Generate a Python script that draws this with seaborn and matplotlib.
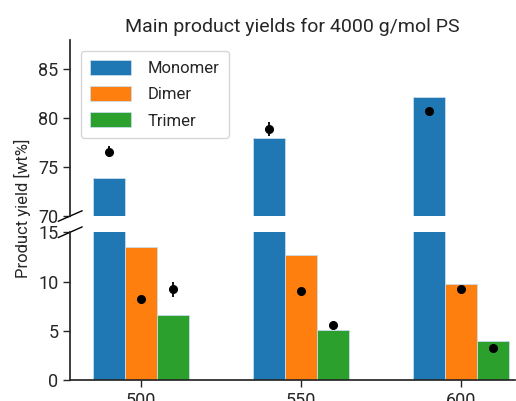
import pandas as pd
import matplotlib
matplotlib.use('Agg')
import matplotlib.pyplot as plt
import seaborn as sns

# --- Data ---
temperatures = [500, 550, 600]
products = ['Monomer', 'Dimer', 'Trimer']

# bars (model yields)
monomer_bar = [73.9, 78.0, 82.2]
dimer_bar = [13.5, 12.7, 9.7]
trimer_bar = [6.6, 5.1, 4.0]

# points (experimental yields) with error
monomer_exp = [76.6, 78.9, 80.7]
monomer_err = [0.6, 0.7, 0.3]
dimer_exp = [8.2, 9.0, 9.2]
dimer_err = [0.0, 0.0, 0.0]
trimer_exp = [9.2, 5.6, 3.3]
trimer_err = [0.8, 0.0, 0.0]

bar_values = {'Monomer': monomer_bar, 'Dimer': dimer_bar, 'Trimer': trimer_bar}
exp_values = {'Monomer': (monomer_exp, monomer_err),
              'Dimer': (dimer_exp, dimer_err),
              'Trimer': (trimer_exp, trimer_err)}

rows = []
for prod in products:
    for t, v in zip(temperatures, bar_values[prod]):
        rows.append({'temperature': t, 'product': prod, 'yield': v})
df = pd.DataFrame(rows)

sns.set_theme(style="ticks")
plt.rcParams['font.family'] = ['Roboto', 'DejaVu Sans']

fig, (ax_top, ax_bot) = plt.subplots(
    2, 1, figsize=(5.16, 4.01), dpi=100, sharex=True,
    gridspec_kw={'height_ratios': [176, 148]})
fig.subplots_adjust(left=0.136, right=0.998, top=0.900, bottom=0.052, hspace=0.1)

palette = sns.color_palette('tab10', 3)
for ax in (ax_top, ax_bot):
    sns.barplot(data=df, x='temperature', y='yield', hue='product',
                hue_order=products, palette=palette, native_scale=True,
                saturation=1, width=0.6, edgecolor='#c8dcec', linewidth=0.6,
                ax=ax, legend=(ax is ax_top))
    bar_w = 10
    for i, prod in enumerate(products):
        offset = (i - 1) * bar_w
        ys, errs = exp_values[prod]
        ax.errorbar([t + offset for t in temperatures], ys, yerr=errs,
                    fmt='o', color='black', markersize=5.5, elinewidth=1.3,
                    capsize=0, zorder=5)

ax_top.set_ylim(70, 88)
ax_bot.set_ylim(0, 15)
ax_bot.set_xlim(478, 617)
ax_top.set_yticks([70, 75, 80, 85])
ax_bot.set_yticks([0, 5, 10, 15])
ax_bot.set_xticks(temperatures)

ax_top.spines['bottom'].set_visible(False)
ax_top.spines['top'].set_visible(False)
ax_top.spines['right'].set_visible(False)
ax_bot.spines['top'].set_visible(False)
ax_bot.spines['right'].set_visible(False)
ax_top.tick_params(axis='x', bottom=False, labelbottom=False)
for ax in (ax_top, ax_bot):
    ax.tick_params(labelsize=13, length=5, width=1)
    ax.set_xlabel('')
    ax.set_ylabel('')

# break marks on the left spine
d = 0.03
kw = dict(color='black', clip_on=False, linewidth=1)
ax_top.plot((-d * 0.9, d * 0.9), (-d, d), transform=ax_top.transAxes, **kw)
ax_bot.plot((-d * 0.9, d * 0.9), (1 - d * 1.2, 1 + d * 1.2), transform=ax_bot.transAxes, **kw)

ax_top.legend(loc='upper left', fontsize=12, handlelength=2.45, handleheight=1.0,
              borderpad=0.55, labelspacing=0.6, handletextpad=1.0,
              borderaxespad=0.65)

ax_top.set_title('Main product yields for 4000 g/mol PS', fontsize=14)
fig.text(0.043, 0.48, 'Product yield [wt%]', rotation=90, va='center',
         ha='center', fontsize=12)

plt.savefig('out.png', dpi=100)
plt.close()
